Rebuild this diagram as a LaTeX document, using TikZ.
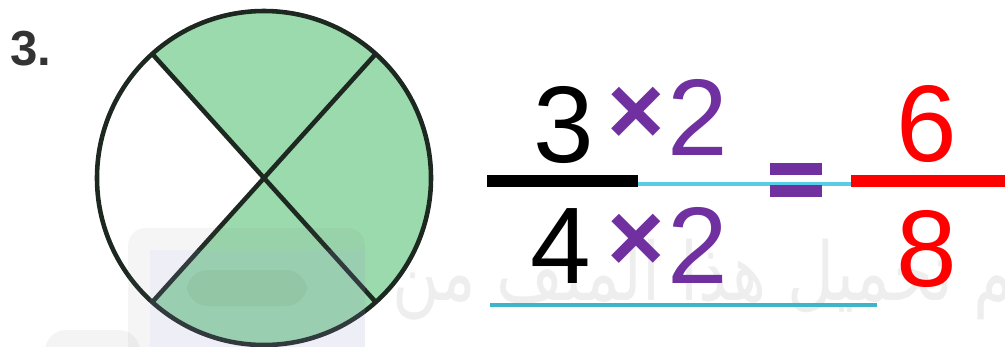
\documentclass[tikz,border=0pt]{standalone}
\usepackage{fontspec}
\setmainfont{Liberation Sans}
\newfontfamily\arabicfont[Script=Arabic]{DejaVu Sans}
\TeXXeTstate=1
\usetikzlibrary{calc, backgrounds}

\definecolor{piegreen}{RGB}{155,218,172}
\definecolor{pieline}{RGB}{28,40,32}
\definecolor{fracpurple}{RGB}{112,48,160}
\definecolor{fraccyan}{RGB}{90,205,230}
\definecolor{fracred}{RGB}{255,0,0}
\definecolor{labelgray}{RGB}{51,51,51}

\begin{document}
\begin{tikzpicture}[
    x=0.02cm, y=-0.02cm,
    digit/.style={font=\fontsize{62}{62}\selectfont, inner sep=0pt, anchor=base},
    times/.style={font=\fontsize{56}{56}\selectfont\bfseries, inner sep=0pt, anchor=center,
                  text=fracpurple},
    pie/.style={draw=pieline, line width=2.6pt},
]
    \useasboundingbox (0,0) rectangle (1005,346);

    %==================== WATERMARK ====================
    \begin{scope}
        \clip (0,0) rectangle (1005,346);
        \fill[gray, opacity=0.09, rounded corners=12pt] (45,330) rectangle (140,380);
        \node[font=\arabicfont\fontsize{46}{46}\selectfont, text=gray!13, anchor=base east,
              inner sep=0pt] (wmark) at (1035,300)
              {\scalebox{0.8}[1]{\beginR تم تحميل هذا الملف من\endR}};
    \end{scope}

    %==================== LABEL ====================
    \node[font=\fontsize{28}{28}\selectfont\bfseries, text=labelgray, anchor=base west,
          inner sep=0pt] (num) at (10,65) {3.};

    %==================== PIE ====================
    \coordinate (o) at (264,178);
    \def\rad{167}
    \fill[piegreen] (o) -- ++(132:\rad) arc[start angle=132, end angle=48, radius=\rad] -- cycle;
    \fill[piegreen] (o) -- ++(48:\rad) arc[start angle=48, end angle=-48, radius=\rad] -- cycle;
    \fill[piegreen] (o) -- ++(-48:\rad) arc[start angle=-48, end angle=-132, radius=\rad] -- cycle;
    \draw[pie] (o) circle[radius=\rad];
    \draw[pie] ($(o)+(132:\rad)$) -- ($(o)+(-48:\rad)$);
    \draw[pie] ($(o)+(48:\rad)$) -- ($(o)+(-132:\rad)$);

    %==================== logo overlay ====================
    \begin{scope}
        \clip (0,0) rectangle (1005,346);
        \fill[gray, opacity=0.08, rounded corners=10pt] (128,228) rectangle (365,380);
        \fill[blue!30!white, opacity=0.10] (150,250) rectangle (365,380);
        \fill[gray!80!green, opacity=0.14, rounded corners=12pt] (187,270) rectangle (307,306);
    \end{scope}

    %==================== LEFT FRACTION ====================
    \node[digit] (n3) at (564,162) {3};
    \node[times] (tx1) at (636,116) {×};
    \node[digit, text=fracpurple] (n2a) at (698,155) {2};

    \node[digit] (n4) at (561,283) {4};
    \node[times] (tx2) at (636,243) {×};
    \node[digit, text=fracpurple] (n2b) at (698,283) {2};

    \coordinate (bl) at (487,181);
    \coordinate (bm) at (638,181);
    \coordinate (br) at (852,184);
    \draw[fraccyan, line width=2.4pt] (bm |- br) -- (br);
    \draw[black, line width=6.8pt] (bl) -- (bm);

    %==================== EQUALS ====================
    \fill[fracpurple] (770,163) rectangle (822,175);
    \fill[fracpurple] (770,185) rectangle (822,197);
    \node[inner sep=0pt] (eq) at (796,180) {};

    %==================== RIGHT FRACTION ====================
    \node[digit, text=fracred] (n6) at (927,161) {6};
    \node[digit, text=fracred] (n8) at (927,286) {8};
    \draw[fracred, line width=6.8pt] (851,181) -- (1005,181);

    %==================== underline ====================
    \coordinate (ul) at (490,305);
    \coordinate (ur) at (877,305);
    \draw[fraccyan!70!teal, line width=2.2pt] (ul) -- (ur);

\end{tikzpicture}
\end{document}
